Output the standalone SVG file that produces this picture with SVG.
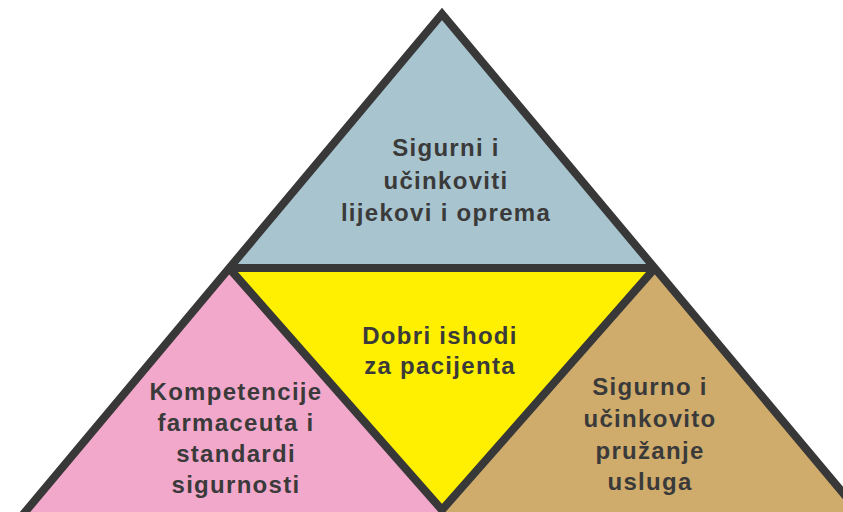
<svg xmlns="http://www.w3.org/2000/svg" width="843" height="512" viewBox="0 0 843 512">
<style>
.lbl{font-family:"Liberation Sans",Arial,sans-serif;font-weight:bold;font-size:24px;fill:#3a3a3a;text-anchor:middle;letter-spacing:1.3px}
.edge{fill:none;stroke:#383838;stroke-width:8;stroke-linejoin:miter}
</style>
<rect width="843" height="512" fill="#ffffff"/>
<g id="node-top">
<polygon points="442,14 229,268 655,268" fill="#a8c4cf"/>
<text class="lbl" x="446" y="156">Sigurni i</text>
<text class="lbl" x="446" y="189">učinkoviti</text>
<text class="lbl" x="446" y="221">lijekovi i oprema</text>
</g>
<g id="node-center">
<polygon points="229,268 655,268 442,510" fill="#fef000"/>
<text class="lbl" x="440" y="344">Dobri ishodi</text>
<text class="lbl" x="440" y="374">za pacijenta</text>
</g>
<g id="node-left">
<polygon points="229,268 442,510 442,530 10,530" fill="#f2a8cb"/>
<text class="lbl" x="236" y="400">Kompetencije</text>
<text class="lbl" x="236" y="431">farmaceuta i</text>
<text class="lbl" x="236" y="462">standardi</text>
<text class="lbl" x="236" y="493">sigurnosti</text>
</g>
<g id="node-right">
<polygon points="655,268 874,530 442,530 442,510" fill="#d0ac6c"/>
<text class="lbl" x="650" y="395">Sigurno i</text>
<text class="lbl" x="650" y="427">učinkovito</text>
<text class="lbl" x="650" y="459">pružanje</text>
<text class="lbl" x="650" y="490">usluga</text>
</g>
<g id="connectors">
<path class="edge" d="M10,530 L442,14 L874,530"/>
<path class="edge" d="M229,268 L655,268"/>
<path class="edge" d="M229,268 L442,510 L655,268"/>
</g>
</svg>
